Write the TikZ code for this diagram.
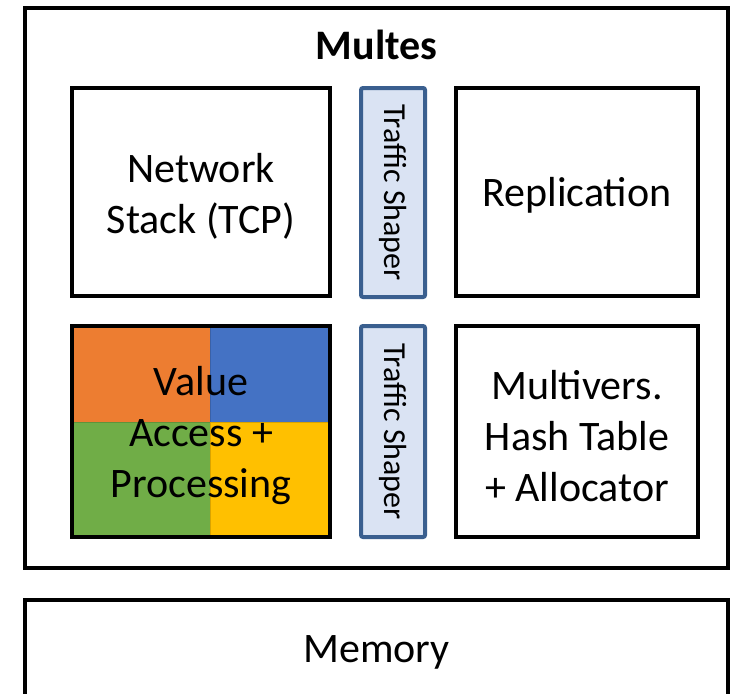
\documentclass[tikz,border=0pt]{standalone}
\usepackage{fontspec}
\setmainfont{Carlito}
\definecolor{qorange}{HTML}{ED7D31}
\definecolor{qblue}{HTML}{4472C4}
\definecolor{qgreen}{HTML}{70AD47}
\definecolor{qyellow}{HTML}{FFC000}
\definecolor{tsfill}{HTML}{DAE3F3}
\definecolor{tsdraw}{HTML}{3A5F8F}
\tikzset{
  box/.style={draw=black, line width=3.5pt, rectangle, inner sep=0pt},
  boxtext/.style={align=center, inner sep=0pt, font=\fontsize{42}{51}\selectfont},
  shaper/.style={draw=tsdraw, fill=tsfill, line width=4pt, rectangle, rounded corners=2pt,
    inner sep=0pt, minimum width=64pt, minimum height=209pt},
  shapertext/.style={rotate=-90, font=\fontsize{32}{36}\selectfont, inner sep=0pt},
  quad/.style={line width=1pt}
}
\begin{document}
\begin{tikzpicture}[x=1pt,y=-1pt]
\useasboundingbox (0,0) rectangle (741,693);
\clip (0,0) rectangle (741,693);
\fill[white] (0,0) rectangle (741,693);
% outer
\node[box, line width=4pt, minimum width=703pt, minimum height=560pt] (outer) at (376.5,288) {};
\node[boxtext, font=\fontsize{42}{51}\selectfont\bfseries] (title) at (376.5,45) {Multes};
% top row
\node[box, minimum width=258pt, minimum height=208pt] (net) at (201,192) {};
\node[boxtext] (nett) at (201,196) {Network\\Stack (TCP)};
\node[shaper] (ts1) at (393,192.5) {};
\node[shapertext] (ts1t) at (ts1.center) {Traffic Shaper};
\node[box, minimum width=242pt, minimum height=208pt] (rep) at (577,192) {};
\node[boxtext] (rept) at (577,195) {Replication};
% bottom row
\draw[quad, draw=qorange!85!black, fill=qorange] (72,326) rectangle (210,422);
\draw[quad, draw=qblue!85!black, fill=qblue] (210,326) rectangle (330,422);
\draw[quad, draw=qgreen!85!black, fill=qgreen] (72,422) rectangle (210,537);
\draw[quad, draw=qyellow!85!black, fill=qyellow] (210,422) rectangle (330,537);
\node[box, minimum width=258pt, minimum height=211pt] (val) at (201,431.5) {};
\node[boxtext] (valt) at (201,436) {Value\\Access +\\Processing};
\node[shaper, minimum height=211pt] (ts2) at (393,431.5) {};
\node[shapertext] (ts2t) at (ts2.center) {Traffic Shaper};
\node[box, minimum width=242pt, minimum height=211pt] (mvh) at (577,431.5) {};
\node[boxtext] (mvht) at (577,436) {Multivers.\\Hash Table\\+ Allocator};
% memory
\node[box, line width=4pt, minimum width=703pt, minimum height=120pt] (mem) at (376.5,660) {};
\node[boxtext] (memt) at (376.5,652) {Memory};
\end{tikzpicture}
\end{document}
